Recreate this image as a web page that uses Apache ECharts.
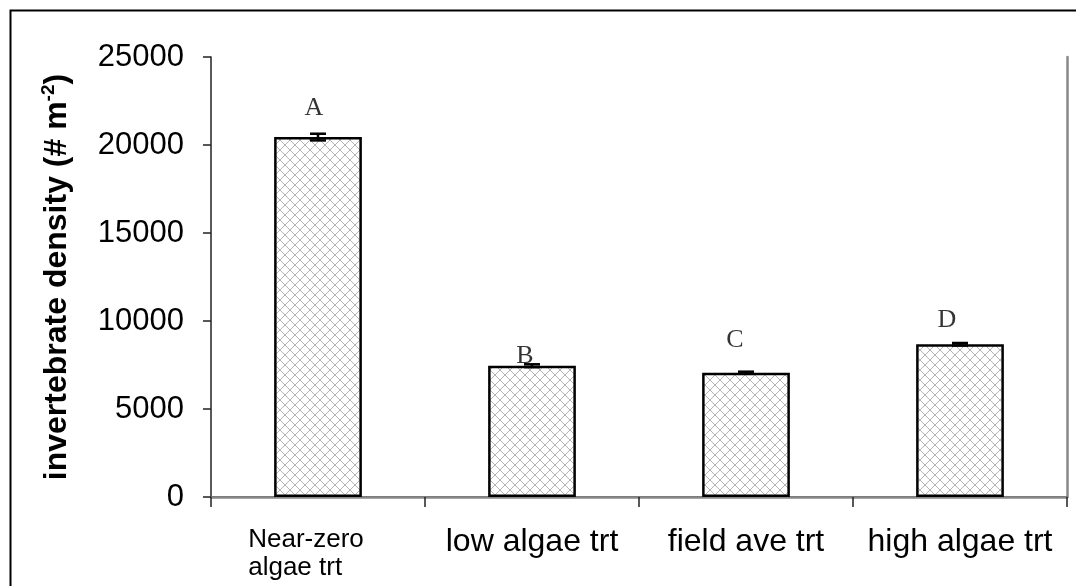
<!DOCTYPE html>
<html>
<head>
<meta charset="utf-8">
<script src="https://cdn.jsdelivr.net/npm/echarts@6/dist/echarts.min.js"></script>
<style>
html,body{margin:0;padding:0;background:#fff;}
#chart{width:1076px;height:586px;}
</style>
</head>
<body>
<div id="chart"></div>
<script>
// ---- data ----
var categories = ['Near-zero\nalgae trt', 'low algae trt', 'field ave trt', 'high algae trt'];
var densityValues = [20450, 7460, 7060, 8680];
var densityErrors = [190, 80, 60, 70];
var groupLetters = ['A', 'B', 'C', 'D'];
var letterHeights = [22100, 8000, 8900, 10050];
var yTicks = [0, 5000, 10000, 15000, 20000, 25000];

// ---- styles ----
var letterOffsetX = [-4, -7, -11, -13];
var FONT = "'Liberation Sans', Arial, sans-serif";

function makeHatch() {
  var n = 10;
  var c = document.createElement('canvas');
  c.width = n; c.height = n;
  var ctx = c.getContext('2d');
  ctx.fillStyle = '#fff';
  ctx.fillRect(0, 0, n, n);
  ctx.strokeStyle = '#b4b4b4';
  ctx.lineWidth = 1;
  ctx.beginPath();
  ctx.moveTo(0, 0); ctx.lineTo(n, n);
  ctx.moveTo(n, 0); ctx.lineTo(0, n);
  ctx.stroke();
  return c;
}

var chart = echarts.init(document.getElementById('chart'), null, {renderer: 'canvas'});

var option = {
  animation: false,
  backgroundColor: '#fff',
  grid: {left: 211, right: 9, top: 57, bottom: 89, containLabel: false},
  graphic: [{
    type: 'rect', left: 8, top: 8,
    shape: {width: 1100, height: 620},
    style: {fill: 'none', stroke: '#000', lineWidth: 2},
    silent: true
  }],
  xAxis: [{
    type: 'category',
    data: categories,
    position: 'bottom',
    axisLine: {lineStyle: {color: '#222', width: 1.5}},
    axisTick: {show: true, length: 10, lineStyle: {color: '#222', width: 1.5}},
    axisLabel: {
      interval: 0,
      margin: 29,
      color: '#000',
      fontSize: 32,
      fontFamily: FONT,
      formatter: function (v) {
        if (v.indexOf('\n') >= 0) {
          return v.split('\n').map(function (s) { return '{s|' + s + '}'; }).join('\n');
        }
        return v;
      },
      rich: {
        s: {fontSize: 26, fontFamily: FONT, color: '#000', align: 'left', lineHeight: 28, padding: [0, 24, 0, 0]}
      }
    }
  }, {
    type: 'category',
    data: categories,
    position: 'top',
    axisLine: {lineStyle: {color: '#888', width: 2.5}},
    axisTick: {show: false},
    axisLabel: {show: false}
  }],
  yAxis: [{
    type: 'value',
    min: yTicks[0],
    max: yTicks[yTicks.length - 1],
    interval: yTicks[1] - yTicks[0],
    axisLine: {show: true, lineStyle: {color: '#222', width: 1.5}},
    axisTick: {show: true, length: 8, lineStyle: {color: '#222', width: 1.5}},
    splitLine: {show: false},
    axisLabel: {margin: 27, color: '#000', fontSize: 31, fontFamily: FONT,
      formatter: function (v) { return String(v); }},
    name: '{t|invertebrate density (# m}{sup|-2}{t|)}',
    nameLocation: 'middle',
    nameRotate: 90,
    nameGap: 136,
    nameTextStyle: {
      rich: {
        t: {fontSize: 32, fontWeight: 'bold', fontFamily: FONT, color: '#000', lineHeight: 36},
        sup: {fontSize: 19, fontWeight: 'bold', fontFamily: FONT, color: '#000', verticalAlign: 'top', lineHeight: 36}
      }
    }
  }, {
    type: 'value',
    position: 'right',
    min: yTicks[0],
    max: yTicks[yTicks.length - 1],
    interval: yTicks[1] - yTicks[0],
    axisLine: {show: true, lineStyle: {color: '#888', width: 2.5}},
    axisTick: {show: false},
    axisLabel: {show: false},
    splitLine: {show: false}
  }],
  series: [{
    type: 'bar',
    data: densityValues,
    barWidth: '41%',
    itemStyle: {
      color: {image: makeHatch(), repeat: 'repeat'},
      borderColor: '#000',
      borderWidth: 2.5
    },
    z: 2
  }, {
    type: 'custom',
    data: densityValues.map(function (v, i) { return [i, v, densityErrors[i]]; }),
    renderItem: function (params, api) {
      var x = api.value(0), v = api.value(1), e = api.value(2);
      var hi = api.coord([x, v + e]);
      var lo = api.coord([x, v - e]);
      var w = 8;
      var st = {stroke: '#000', lineWidth: 2.5};
      return {
        type: 'group',
        children: [
          {type: 'line', shape: {x1: hi[0], y1: hi[1], x2: lo[0], y2: lo[1]}, style: st},
          {type: 'line', shape: {x1: hi[0] - w, y1: hi[1], x2: hi[0] + w, y2: hi[1]}, style: st},
          {type: 'line', shape: {x1: lo[0] - w, y1: lo[1], x2: lo[0] + w, y2: lo[1]}, style: st}
        ]
      };
    },
    z: 5
  }, {
    type: 'scatter',
    symbolSize: 0,
    data: letterHeights.map(function (h, i) {
      return {
        value: [i, h],
        name: groupLetters[i],
        label: {offset: [letterOffsetX[i], 0]}
      };
    }),
    label: {
      show: true,
      position: 'inside',
      formatter: function (p) { return p.name; },
      color: '#000',
      fontSize: 26,
      fontFamily: "'Liberation Serif', 'Times New Roman', serif"
    },
    z: 6
  }]
};
chart.setOption(option);
</script>
</body>
</html>
